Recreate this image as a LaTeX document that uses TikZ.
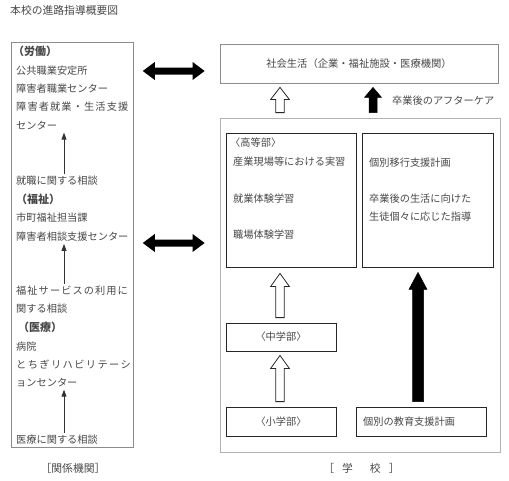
\documentclass[tikz,border=0pt]{standalone}
\usepackage{fontspec}
\setmainfont{Noto Sans CJK JP}
\usetikzlibrary{positioning, arrows.meta, calc}

% block arrows between named points
\newcommand{\lrblock}[2]{%
  \fill ($#1$) -- ($#1+(12,-9)$) -- ($#1+(12,-3.5)$) -- ($#2+(-12,-3.5)$)
    -- ($#2+(-12,-9)$) -- ($#2$) -- ($#2+(-12,9)$) -- ($#2+(-12,3.5)$)
    -- ($#1+(12,3.5)$) -- ($#1+(12,9)$) -- cycle;}
\newcommand{\upblock}[6]{%
  \draw[#1] ($#2+(-#4,0)$) -- ($#3+(-#4,#6)$) -- ($#3+(-#5,#6)$) -- #3
    -- ($#3+(#5,#6)$) -- ($#3+(#4,#6)$) -- ($#2+(#4,0)$) -- cycle;}

\begin{document}
\begin{tikzpicture}[x=1pt, y=-1pt,
    txt/.style={anchor=west, inner sep=0pt, text=black!72, font=\fontsize{10.2}{12}\selectfont},
    head/.style={txt, font=\fontsize{11}{13}\selectfont\bfseries},
    outerbox/.style={draw=black!45, line width=0.8pt, text=black!72, font=\fontsize{10.3}{12}\selectfont},
    innerbox/.style={draw=black!85, line width=0.8pt, inner sep=0pt, text=black!72, font=\fontsize{10.2}{12}\selectfont},
    thinarr/.style={draw=black!80, line width=0.8pt, shorten >=2pt, shorten <=2pt, -{Triangle[length=7pt,width=5pt]}},
    whitearr/.style={draw=black!85, fill=white, line width=0.8pt},
    blackarr/.style={draw=black, fill=black, line width=0.5pt}]
    \useasboundingbox (0,0) rectangle (509,480);

    \node[txt, font=\fontsize{10.8}{12}\selectfont] (title) at (10,10) {本校の進路指導概要図};

    % left column
    \node[outerbox, minimum width=122, minimum height=405, anchor=north west] (kankei) at (11,42) {};
    \node[head] (rodo) at (13,51) {（労働）};
    \node[txt] (antei) at (16,71) {公共職業安定所};
    \node[txt] (shokugyo) at (16,89) {障害者職業センター};
    \node[txt, font=\fontsize{10.2}{12}\selectfont\addfontfeature{LetterSpace=11}] (shugyo) at (16,107) {障害者就業・生活支援};
    \node[txt] (center1) at (16,126) {センター};
    \node[txt] (shushoku) at (16,181) {就職に関する相談};
    \node[head] (fukushi) at (16,199) {（福祉）};
    \node[txt] (tanto) at (16,218) {市町福祉担当課};
    \node[txt] (sodan) at (16,237) {障害者相談支援センター};
    \node[txt, font=\fontsize{10.2}{12}\selectfont\addfontfeature{LetterSpace=10.5}] (service) at (16,291) {福祉サービスの利用に};
    \node[txt] (service2) at (16,309) {関する相談};
    \node[head] (iryo) at (18,327) {（医療）};
    \node[txt] (byoin) at (16,347) {病院};
    \node[txt, font=\fontsize{10.2}{12}\selectfont\addfontfeature{LetterSpace=14}] (rehab) at (16,365) {とちぎリハビリテーシ};
    \node[txt] (rehab2) at (16,383) {ョンセンター};
    \node[txt] (iryosodan) at (16,440) {医療に関する相談};
    \node[txt, anchor=center, font=\fontsize{10.8}{12}\selectfont] (kankeilbl) at (73,468) {［関係機関］};

    \coordinate (lx) at (64,0);
    \draw[thinarr] (shushoku.north -| lx) -- (center1.south -| lx);
    \draw[thinarr] (service.north -| lx) -- (sodan.south -| lx);
    \draw[thinarr] (iryosodan.north -| lx) -- (rehab2.south -| lx);

    % society and school
    \node[outerbox, minimum width=278, minimum height=39] (shakai) at (359,63.5) {社会生活（企業・福祉施設・医療機関）};
    \node[outerbox, draw=black!30, minimum width=280, minimum height=334] (gakko) at (360,285) {};
    \node[innerbox, minimum width=130, minimum height=134] (kotobu) at (291,200) {};
    \node[innerbox, minimum width=131, minimum height=134] (ikou) at (427.5,200) {};
    \node[innerbox, minimum width=110, minimum height=28] (chugaku) at (281,337) {〈中学部〉};
    \node[innerbox, minimum width=110, minimum height=29] (shogaku) at (281,421.5) {〈小学部〉};
    \node[innerbox, minimum width=130, minimum height=29] (kyoiku) at (421,421.5) {};
    \node[txt] (kyoikutxt) at (363,421.5) {個別の教育支援計画};

    \node[txt] (kotolbl) at (230,143) {〈高等部〉};
    \node[txt] (jisshu) at (233,162) {産業現場等における実習};
    \node[txt] (shugyotaiken) at (233,199) {就業体験学習};
    \node[txt] (shokuba) at (233,235) {職場体験学習};
    \node[txt] (ikoukeikaku) at (369,163) {個別移行支援計画};
    \node[txt] (shido1) at (369,199) {卒業後の生活に向けた};
    \node[txt] (shido2) at (369,217) {生徒個々に応じた指導};
    \node[txt] (after) at (392,101) {卒業後のアフターケア};
    \node[txt, anchor=center, font=\fontsize{10.8}{12}\selectfont] (gakkolbl) at (361.5,468) {［\hspace{8pt}学\hspace{17pt}校\hspace{8pt}］};

    % arrows
    \coordinate (ax) at (280,0);
    \coordinate (bx) at (373,0);
    \coordinate (cx) at (418,0);
    \coordinate (l1) at ($(kankei.east |- 0,71)+(9,0)$);
    \coordinate (r1) at ($(shakai.west |- 0,71)+(-15,0)$);
    \coordinate (l2) at ($(kankei.east |- 0,243)+(9,0)$);
    \coordinate (r2) at ($(gakko.west |- 0,243)+(-15,0)$);
    \lrblock{(l1)}{(r1)}
    \lrblock{(l2)}{(r2)}

    \coordinate (wa1t) at ($(shakai.south -| ax)+(0,4)$);
    \coordinate (wa1b) at ($(gakko.north -| ax)+(0,-5)$);
    \coordinate (ba1t) at ($(shakai.south -| bx)+(0,4)$);
    \coordinate (ba1b) at ($(gakko.north -| bx)+(0,-5)$);
    \upblock{whitearr}{(wa1b)}{(wa1t)}{4.3}{9.3}{12}
    \upblock{blackarr}{(ba1b)}{(ba1t)}{4}{8.5}{10}

    \coordinate (wa2t) at ($(kotobu.south -| ax)+(0,6)$);
    \coordinate (wa2b) at ($(chugaku.north -| ax)+(0,-5)$);
    \coordinate (wa3t) at ($(chugaku.south -| ax)+(0,4)$);
    \coordinate (wa3b) at ($(shogaku.north -| ax)+(0,-5)$);
    \upblock{whitearr}{(wa2b)}{(wa2t)}{4.3}{9.3}{13}
    \upblock{whitearr}{(wa3b)}{(wa3t)}{4.3}{9.3}{13}

    \coordinate (ba2t) at ($(ikou.south -| cx)+(0,5)$);
    \coordinate (ba2b) at ($(kyoiku.north -| cx)+(0,-5)$);
    \upblock{blackarr}{(ba2b)}{(ba2t)}{5.5}{9}{17}
\end{tikzpicture}
\end{document}
